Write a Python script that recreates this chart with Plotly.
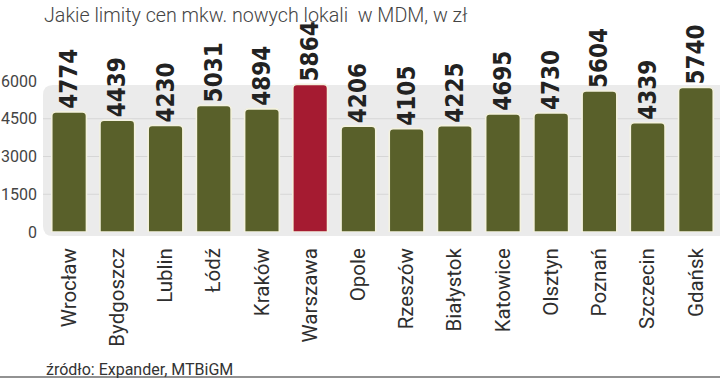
import plotly.graph_objects as go

cities = ["Wrocław", "Bydgoszcz", "Lublin", "Łódź", "Kraków", "Warszawa", "Opole",
          "Rzeszów", "Białystok", "Katowice", "Olsztyn", "Poznań", "Szczecin", "Gdańsk"]
values = [4774, 4439, 4230, 5031, 4894, 5864, 4206, 4105, 4225, 4695, 4730, 5604, 4339, 5740]
highlight = "Warszawa"
y_ticks = [0, 1500, 3000, 4500, 6000]
grid_values = [1500, 3000, 4500]

title_text = "Jakie limity cen mkw. nowych lokali  w MDM, w zł"
source_text = "źródło: Expander, MTBiGM"

OLIVE = "#59602a"
RED = "#a51b31"
colors = [RED if c == highlight else OLIVE for c in cities]

W, H = 720, 379
ML, MR, MT, MB = 45, 0, 81, 147

fig = go.Figure()
fig.add_trace(go.Bar(
    x=cities, y=values,
    marker=dict(color=colors, line=dict(color="#f4f2df", width=1.6), cornerradius=4),
    text=[str(v) for v in values],
    textposition="outside",
    textangle=-90,
    constraintext="none",
    cliponaxis=False,
    textfont=dict(family="Liberation Sans Narrow, DejaVu Sans Condensed, Roboto Condensed, Roboto",
                  size=24, color="#222222", weight="bold"),
    hoverinfo="skip",
))

pw = W - ML - MR
ph = H - MT - MB
px0 = (43 - ML) / pw
px1 = 1.0
py0 = -4 / ph
py1 = (232 - 85) / ph
r = 10
rx = r / pw
ry = r / ph
panel_path = (f"M {px0 + rx},{py0} L {px1},{py0} L {px1},{py1} L {px0 + rx},{py1} "
              f"Q {px0},{py1} {px0},{py1 - ry} L {px0},{py0 + ry} Q {px0},{py0} {px0 + rx},{py0} Z")
shapes = [dict(type="path", path=panel_path, xref="paper", yref="paper",
               fillcolor="#ebebeb", line=dict(width=0), layer="below")]
for g in grid_values:
    shapes.append(dict(type="line", xref="paper", yref="y", x0=px0, x1=1.0, y0=g, y1=g,
                       line=dict(color="#d6d6d6", width=1), layer="below"))
yline = -(377 - MT - ph) / ph
shapes.append(dict(type="line", xref="paper", yref="paper",
                   x0=-ML / pw, x1=1.0, y0=yline, y1=yline,
                   line=dict(color="#6e6e6e", width=1.5)))

fig.update_layout(
    width=W, height=H,
    margin=dict(l=ML, r=MR, t=MT, b=MB, pad=0, autoexpand=False),
    paper_bgcolor="white", plot_bgcolor="rgba(0,0,0,0)",
    bargap=0.28,
    showlegend=False,
    shapes=shapes,
    xaxis=dict(tickangle=-90, showgrid=False, showline=False, zeroline=False, ticks="",
               ticklabelstandoff=11, automargin=False,
               tickfont=dict(family="Roboto, Open Sans, sans-serif", size=20.5, color="#2e2e2e")),
    yaxis=dict(range=[0, 6000], tickvals=y_ticks, ticktext=[str(t) for t in y_ticks],
               showgrid=False, zeroline=False, showline=False, ticks="",
               ticklabelstandoff=7, automargin=False,
               tickfont=dict(family="Roboto, Open Sans, sans-serif", size=16, color="#444444")),
    annotations=[
        dict(text=title_text, xref="paper", yref="paper", x=(42 - ML) / pw, y=1 + (MT - 15) / ph,
             xanchor="left", yanchor="middle", showarrow=False,
             font=dict(family="Roboto, Open Sans, sans-serif", size=19.7, color="#444444", weight=300)),
        dict(text=source_text, xref="paper", yref="paper", x=(44 - ML) / pw, y=-(369 - MT - ph) / ph,
             xanchor="left", yanchor="middle", showarrow=False,
             font=dict(family="Roboto, Open Sans, sans-serif", size=16, color="#333333")),
    ],
)

fig.write_html("out.html", config={"displayModeBar": False},
               post_script="document.body.style.margin='0px';document.body.style.overflow='hidden';")
